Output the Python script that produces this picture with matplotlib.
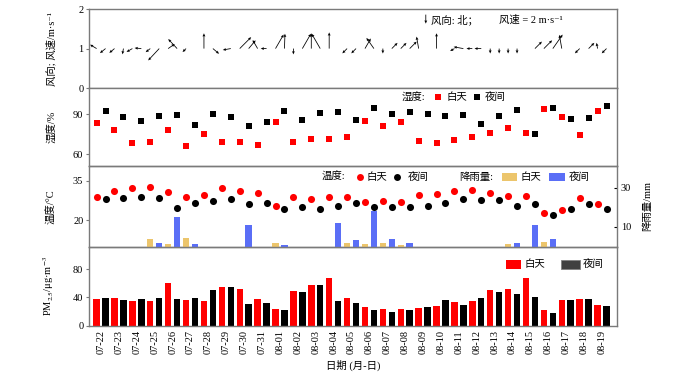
import numpy as np
import matplotlib
matplotlib.use('Agg')
import matplotlib.pyplot as plt
from matplotlib.lines import Line2D
from matplotlib.patches import Rectangle

plt.rcParams['font.family'] = ['Liberation Serif', 'Noto Sans CJK SC', 'DejaVu Serif']
plt.rcParams['mathtext.fontset'] = 'stix'
plt.rcParams['axes.unicode_minus'] = False

dates = ['07-22', '07-23', '07-24', '07-25', '07-26', '07-27', '07-28', '07-29', '07-30', '07-31',
         '08-01', '08-02', '08-03', '08-04', '08-05', '08-06', '08-07', '08-08', '08-09', '08-10',
         '08-11', '08-12', '08-13', '08-14', '08-15', '08-16', '08-17', '08-18', '08-19']

# wind: arrow pointing angle (deg, CCW from east) and speed (m/s)
wind_ang_day = [149, 220, 210, 218, 35, 225, 90, np.nan, 45, 120, 60, 270, 90, 90, 225,
                60, 270, 45, 100, 90, 210, 180, 270, 270, np.nan, 45, 100, 225, 100]
wind_spd_day = [1.7, 1.5, 1.5, 1.3, 1.8, 1.1, 3.4, np.nan, 3.6, 2.2, 3.6, 1.3, 3.4, 3.6, 1.5,
                2.6, 1.1, 1.8, 2.7, 3.4, 1.1, 1.3, 1.1, 1.1, np.nan, 2.6, 3.1, 1.5, 1.3]
wind_ang_night = [219, 260, 175, 227, 133, np.nan, -40, 190, 50, 180, 88, 60, 120, np.nan, 225,
                  125, 45, 45, np.nan, np.nan, 170, 180, 270, 270, 45, 55, np.nan, 45, 225]
wind_spd_night = [1.6, 1.3, 1.5, 3.6, 2.9, np.nan, 1.8, 1.8, 2.4, 1.3, 3.3, 3.8, 3.8, np.nan, 1.5,
                  2.9, 1.8, 2.2, np.nan, np.nan, 2.2, 1.5, 1.1, 1.1, 2.2, 3.8, np.nan, 1.8, 1.5]

hum_day = [83, 77.8, 68, 69, 78, 66, 75, 69, 69, 67, 83.7, 69, 71, 71, 72.5, 84.5, 81.2, 84.2,
           69.5, 68.2, 70.8, 72.7, 75.5, 79.7, 75.7, 93.7, 88, 74.2, 92.5]
hum_night = [92, 88, 84.5, 88.5, 89, 82, 90, 87.7, 80.7, 84, 92, 85.2, 91, 91.7, 85.5, 94.7, 90.2,
             91.5, 90, 88.5, 89, 82.2, 88.5, 93, 75.2, 94.5, 86.2, 87.2, 96.2]

temp_day = [29.0, 31.1, 32.1, 32.75, 30.6, 29.0, 29.5, 32.3, 31.0, 30.5, 25.5, 28.9, 28.1, 29.0,
            28.9, 27.1, 27.4, 26.9, 29.75, 30.1, 31.25, 31.6, 30.4, 29.1, 29.25, 22.8, 24.1, 28.4, 26.1]
temp_night = [28.25, 28.4, 29.0, 28.5, 24.6, 26.5, 27.5, 28.25, 26.1, 26.5, 24.4, 25.0, 24.3, 25.25,
              26.6, 25.0, 25.0, 25.0, 25.5, 26.6, 28.25, 27.6, 27.6, 25.25, 26.25, 22.0, 24.4, 26.25, 24.4]

rain_day = [0, 0, 0, 3.7, 1.1, 4.2, 0, 0, 0, 0, 2.0, 0, 0, 0, 2.0, 1.1, 2.0, 1.0, 0, 0,
            0, 0, 0, 1.1, 0, 2.2, 0, 0, 0]
rain_night = [0, 0, 0, 2.0, 15.3, 1.1, 0, 0, 11.2, 0, 1.0, 0, 0, 11.9, 3.3, 18.2, 4.0, 2.0, 0, 0,
              0, 0, 0, 2.0, 11.2, 3.7, 0, 0, 0]

pm_day = [37.9, 39.3, 35.1, 34.6, 60.4, 36.0, 35.1, 54.3, 52.0, 37.9, 23.9, 49.6, 57.5, 66.9, 38.8,
          26.2, 23.4, 23.9, 25.3, 28.5, 33.2, 35.1, 50.5, 52.4, 66.9, 22.9, 36.9, 37.4, 29.9]
pm_night = [39.8, 36.5, 37.9, 38.8, 37.4, 39.3, 50.0, 55.2, 30.4, 32.3, 22.5, 47.7, 57.0, 35.1, 32.3,
            22.5, 19.6, 22.0, 26.2, 36.9, 29.5, 38.8, 47.7, 45.4, 40.7, 18.7, 36.0, 37.9, 27.6]

RED = '#ff0000'
GOLD = '#ecc56c'
BLUE = '#5a6ef6'
SPINE = '#7a7a7a'
FS = 7.5

n = len(dates)
xd = np.arange(n, dtype=float)
xn = xd + 0.5

fig = plt.figure(figsize=(7.0, 3.79), dpi=100)
gs = fig.add_gridspec(4, 1, left=0.127, right=0.881, bottom=0.140, top=0.976,
                      hspace=0, height_ratios=[79, 78, 81, 79])
axes = [fig.add_subplot(gs[i]) for i in range(4)]
for ax in axes:
    ax.set_xlim(-0.43, n + 0.07)
    for s in ax.spines.values():
        s.set_color(SPINE)
        s.set_linewidth(1.0)
    ax.tick_params(axis='y', direction='out', length=2, width=0.8, color=SPINE,
                   labelsize=FS, pad=2)
    ax.tick_params(axis='x', length=0)
    ax.yaxis.set_label_coords(-0.062, 0.5)
for ax in axes[:3]:
    ax.set_xticks([])

# Panel 1: wind
ax1 = axes[0]
ax1.set_ylim(0, 2)
ax1.set_yticks([0, 1, 2])
SCALE = 2 / 0.09
def uv(ang, spd):
    a = np.deg2rad(np.array(ang, dtype=float))
    s = np.array(spd, dtype=float)
    return s * np.cos(a), s * np.sin(a)
qkw = dict(angles='uv', scale_units='inches', scale=SCALE, units='inches', width=0.008,
           headwidth=3.6, headlength=4.0, headaxislength=3.6, color='black', pivot='tail')
ud, vd = uv(wind_ang_day, wind_spd_day)
un, vn = uv(wind_ang_night, wind_spd_night)
ax1.quiver(xd, np.ones(n), ud, vd, **qkw)
ax1.quiver(xn, np.ones(n), un, vn, **qkw)
ax1.quiver([18.4], [1.86], [0], [-2], **qkw)
ax1.text(18.7, 1.73, '风向: 北；', fontsize=FS, va='center', ha='left')
ax1.text(22.5, 1.73, '风速 = 2 m·s⁻¹', fontsize=FS, va='center', ha='left')
ax1.set_ylabel('风向; 风速/m·s⁻¹', fontsize=FS)

# Panel 2: humidity
ax2 = axes[1]
ax2.scatter(xd, hum_day, marker='s', s=18, color=RED, linewidths=0, zorder=3)
ax2.scatter(xn, hum_night, marker='s', s=18, color='black', linewidths=0, zorder=3)
ax2.set_ylim(51, 109.5)
ax2.set_yticks([60, 90])
ax2.set_ylabel('湿度/%', fontsize=FS)

# Panel 3: temperature + rain
ax3 = axes[2]
ax3r = ax3.twinx()
ax3r.set_xlim(-0.43, n + 0.07)
bw = 0.36
ax3r.bar(xd, rain_day, width=bw, color=GOLD, zorder=1)
ax3r.bar(xn, rain_night, width=bw, color=BLUE, zorder=1)
ax3r.set_ylim(-0.2, 41)
ax3r.set_yticks([10, 30])
ax3r.tick_params(axis='y', direction='in', length=2, width=0.8, color='black',
                 labelsize=FS, pad=3)
for s in ax3r.spines.values():
    s.set_visible(False)
ax3r.set_ylabel('降雨量/mm', fontsize=FS)
ax3r.yaxis.set_label_coords(1.05, 0.5)
ax3.set_zorder(ax3r.get_zorder() + 1)
ax3.patch.set_visible(False)
ax3.scatter(xd, temp_day, marker='o', s=26, color=RED, linewidths=0, zorder=3)
ax3.scatter(xn, temp_night, marker='o', s=26, color='black', linewidths=0, zorder=3)
ax3.set_ylim(10, 40.5)
ax3.set_yticks([20, 35])
ax3.set_ylabel('温度/°C', fontsize=FS)

# Panel 4: PM2.5
ax4 = axes[3]
ax4.bar(xd, pm_day, width=bw, color=RED)
ax4.bar(xn, pm_night, width=bw, color='black')
ax4.set_ylim(0, 111)
ax4.set_yticks([0, 40, 80])
ax4.set_xticks(xd + 0.25)
ax4.set_xticklabels(dates, rotation=90, fontsize=FS)
ax4.tick_params(axis='x', pad=3)
ax4.set_ylabel('PM$_{2.5}$/μg·m$^{-3}$', fontsize=FS)
ax4.set_xlabel('日期 (月-日)', fontsize=FS, labelpad=4)

# manual legends in pixel coords
W, H = 700, 379
def ft(x, y, s, **kw):
    fig.text(x / W, 1 - y / H, s, fontsize=FS, va='center', ha='left', **kw)
def fm(x, y, marker, color, ms):
    fig.add_artist(Line2D([x / W], [1 - y / H], marker=marker, color=color, ms=ms,
                          mew=0, linestyle='none', transform=fig.transFigure))
def fr(x, y, w, h, color, ec='none'):
    fig.add_artist(Rectangle((x / W, 1 - (y + h / 2) / H), w / W, h / H, facecolor=color,
                             edgecolor=ec, lw=0.6, transform=fig.transFigure))

# humidity legend
ft(402, 97, '湿度:')
fm(438, 97, 's', RED, 4.3)
ft(446, 97, '白天')
fm(477, 97, 's', 'black', 4.3)
ft(485, 97, '夜间')
# temperature / rain legend
ft(322, 177, '温度:')
fm(360, 177, 'o', RED, 5)
ft(367, 177, '白天')
fm(397, 177, 'o', 'black', 5)
ft(408, 177, '夜间')
ft(459, 177, '降雨量:')
fr(502, 177, 15, 8, GOLD)
ft(521, 177, '白天')
fr(549, 177, 16, 8, BLUE)
ft(569, 177, '夜间')
# PM legend
fr(506, 264, 15, 9, RED)
ft(525, 264, '白天')
fr(561, 264, 19, 9, '#404040', ec='#808080')
ft(583, 264, '夜间')

fig.savefig('out.png', dpi=100)
